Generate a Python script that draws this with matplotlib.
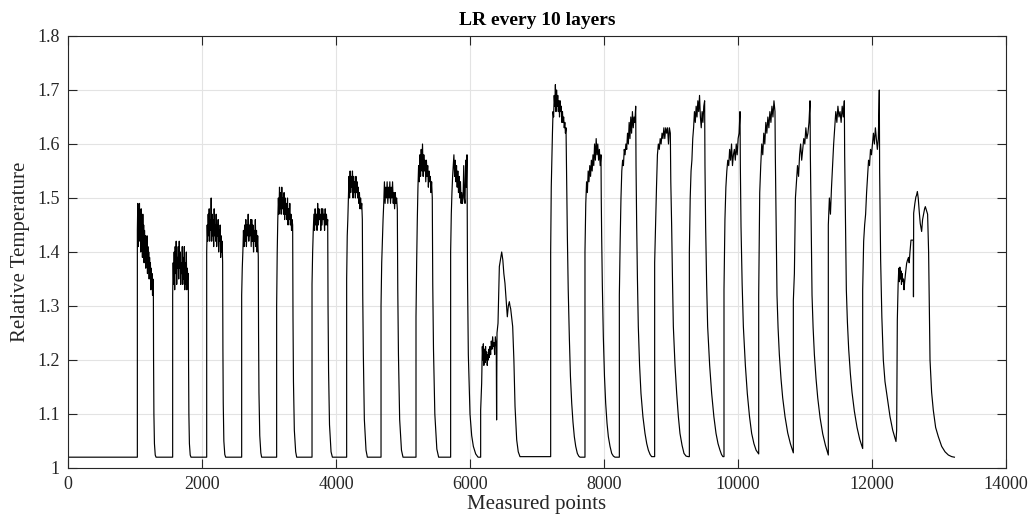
import numpy as np
import matplotlib
matplotlib.use("Agg")
import matplotlib.pyplot as plt
from matplotlib.ticker import FixedLocator, FixedFormatter

# ---------------- data ----------------
title = "LR every 10 layers"
x_label = "Measured points"
y_label = "Relative Temperature"
x_ticks = [0, 2000, 4000, 6000, 8000, 10000, 12000, 14000]
x_tick_labels = ["0", "2000", "4000", "6000", "8000", "10000", "12000", "14000"]
y_ticks = [1.0, 1.1, 1.2, 1.3, 1.4, 1.5, 1.6, 1.7, 1.8]
y_tick_labels = ["1", "1.1", "1.2", "1.3", "1.4", "1.5", "1.6", "1.7", "1.8"]

baseline = 1.02
series_end = 13230

# heating on / off sample index of each regular pulse
pulse_on = [1035, 1562, 2070, 2592, 3114, 3642, 4159, 4672, 5194, 5711,
            7204, 7716, 8229, 8756, 9274, 9791, 10309, 10826, 11348, 11861]
pulse_off = [1274, 1796, 2308, 2840, 3353, 3876, 4393, 4915, 5437, 5955,
             7433, 7955, 8473, 8990, 9502, 10030, 10552, 11075, 11587, 12109]

# plateau readings (noisy), spread over on..off
p01 = [1.44, 1.49, 1.41, 1.48, 1.43, 1.49, 1.42, 1.47, 1.40, 1.48, 1.42, 1.46, 1.39, 1.47,
       1.41, 1.45, 1.38, 1.44, 1.40, 1.43, 1.37, 1.42, 1.39, 1.43, 1.36, 1.41, 1.37, 1.40,
       1.35, 1.39, 1.36, 1.38, 1.33, 1.37, 1.34, 1.36, 1.32, 1.35, 1.33]
p02 = [1.32, 1.38, 1.34, 1.40, 1.33, 1.41, 1.36, 1.42, 1.34, 1.39, 1.37, 1.41, 1.35, 1.42,
       1.37, 1.40, 1.34, 1.38, 1.36, 1.41, 1.34, 1.39, 1.35, 1.41, 1.33, 1.38, 1.34, 1.40,
       1.33, 1.37, 1.35, 1.36]
p03 = [1.40, 1.45, 1.42, 1.47, 1.43, 1.48, 1.42, 1.46, 1.44, 1.50, 1.42, 1.47, 1.43, 1.46,
       1.41, 1.48, 1.43, 1.45, 1.42, 1.47, 1.41, 1.45, 1.43, 1.46, 1.40, 1.44, 1.42, 1.45,
       1.39, 1.43, 1.40, 1.42, 1.38]
p04 = [1.32, 1.37, 1.40, 1.44, 1.41, 1.45, 1.42, 1.46, 1.41, 1.45, 1.43, 1.47, 1.42, 1.45,
       1.43, 1.46, 1.41, 1.46, 1.42, 1.45, 1.40, 1.44, 1.42, 1.46, 1.41, 1.44, 1.40, 1.43, 1.39]
p05 = [1.30, 1.40, 1.46, 1.50, 1.47, 1.52, 1.48, 1.51, 1.47, 1.52, 1.48, 1.50, 1.47, 1.51,
       1.46, 1.50, 1.47, 1.49, 1.46, 1.50, 1.45, 1.48, 1.46, 1.49, 1.45, 1.47, 1.44, 1.46, 1.45]
p06 = [1.34, 1.40, 1.44, 1.47, 1.44, 1.48, 1.45, 1.47, 1.44, 1.49, 1.45, 1.48, 1.46, 1.47,
       1.44, 1.48, 1.45, 1.48, 1.46, 1.47, 1.44, 1.48, 1.45, 1.47, 1.45, 1.46]
p07 = [1.35, 1.43, 1.46, 1.50, 1.54, 1.50, 1.55, 1.51, 1.54, 1.52, 1.55, 1.50, 1.54, 1.51,
       1.53, 1.50, 1.54, 1.51, 1.53, 1.50, 1.52, 1.49, 1.51, 1.48, 1.50, 1.48, 1.49, 1.46]
p08 = [1.30, 1.38, 1.42, 1.46, 1.49, 1.53, 1.49, 1.52, 1.50, 1.53, 1.49, 1.52, 1.50, 1.53,
       1.49, 1.52, 1.50, 1.53, 1.49, 1.51, 1.48, 1.51, 1.49, 1.50, 1.48]
p09 = [1.28, 1.38, 1.46, 1.52, 1.56, 1.53, 1.58, 1.54, 1.59, 1.55, 1.60, 1.54, 1.58, 1.55,
       1.57, 1.53, 1.57, 1.54, 1.56, 1.52, 1.55, 1.53, 1.54, 1.51, 1.53, 1.50]
p10 = [1.40, 1.47, 1.51, 1.54, 1.56, 1.58, 1.54, 1.57, 1.53, 1.56, 1.52, 1.55, 1.51, 1.54,
       1.50, 1.53, 1.49, 1.51, 1.49, 1.50, 1.56, 1.50, 1.49, 1.57, 1.52, 1.58]
p12 = [1.40, 1.52, 1.57, 1.62, 1.66, 1.65, 1.69, 1.67, 1.71, 1.66, 1.70, 1.67, 1.69, 1.66,
       1.68, 1.65, 1.68, 1.66, 1.67, 1.64, 1.66, 1.64, 1.65, 1.63, 1.64, 1.62, 1.63]
p13 = [1.40, 1.49, 1.53, 1.51, 1.55, 1.53, 1.56, 1.54, 1.57, 1.55, 1.58, 1.56, 1.60, 1.57,
       1.61, 1.58, 1.60, 1.57, 1.59, 1.56, 1.58]
p14 = [1.32, 1.42, 1.50, 1.55, 1.57, 1.56, 1.59, 1.58, 1.60, 1.59, 1.62, 1.60, 1.64, 1.61,
       1.65, 1.62, 1.66, 1.63, 1.65, 1.64, 1.67]
p15 = [1.38, 1.45, 1.52, 1.58, 1.60, 1.59, 1.61, 1.60, 1.62, 1.61, 1.63, 1.61, 1.63, 1.62,
       1.63, 1.60, 1.63, 1.62]
p16 = [1.40, 1.50, 1.55, 1.57, 1.61, 1.63, 1.66, 1.64, 1.67, 1.65, 1.68, 1.66, 1.69, 1.65,
       1.63, 1.66, 1.64, 1.67, 1.68]
p17 = [1.33, 1.46, 1.52, 1.55, 1.57, 1.56, 1.59, 1.57, 1.60, 1.56, 1.58, 1.59, 1.57, 1.60,
       1.58, 1.61, 1.62, 1.66]
p18 = [1.32, 1.51, 1.56, 1.60, 1.58, 1.62, 1.60, 1.64, 1.62, 1.65, 1.63, 1.66, 1.64, 1.67,
       1.65, 1.68, 1.66]
p19 = [1.31, 1.36, 1.50, 1.53, 1.56, 1.54, 1.58, 1.60, 1.57, 1.59, 1.61, 1.60, 1.63, 1.61,
       1.62, 1.64, 1.68]
p20 = [1.45, 1.50, 1.47, 1.52, 1.56, 1.60, 1.63, 1.66, 1.64, 1.67, 1.65, 1.66, 1.64, 1.67,
       1.65, 1.68]
p21 = [1.33, 1.42, 1.45, 1.47, 1.51, 1.54, 1.57, 1.56, 1.59, 1.58, 1.60, 1.62, 1.60, 1.63,
       1.61, 1.59, 1.61, 1.70]

# cooling after switch-off: (samples after off, value)
c01 = [(3, 1.20), (8, 1.10), (16, 1.045), (28, 1.024), (40, 1.02)]
c02 = [(3, 1.20), (8, 1.10), (16, 1.045), (28, 1.024), (40, 1.02)]
c03 = [(4, 1.22), (9, 1.12), (18, 1.05), (32, 1.025), (45, 1.02)]
c04 = [(4, 1.25), (10, 1.14), (22, 1.06), (38, 1.028), (50, 1.02)]
c05 = [(5, 1.28), (12, 1.16), (25, 1.07), (45, 1.03), (60, 1.02)]
c06 = [(5, 1.30), (13, 1.18), (27, 1.08), (50, 1.03), (70, 1.02)]
c07 = [(6, 1.32), (15, 1.21), (30, 1.09), (55, 1.033), (75, 1.02)]
c08 = [(7, 1.33), (17, 1.21), (35, 1.09), (62, 1.033), (85, 1.02)]
c09 = [(7, 1.34), (18, 1.22), (38, 1.10), (68, 1.035), (95, 1.02)]
c10 = [(8, 1.35), (20, 1.21), (45, 1.10), (70, 1.06), (95, 1.04), (130, 1.026), (165, 1.02)]
c12 = [(5, 1.58), (12, 1.50), (20, 1.43), (33, 1.33), (50, 1.24), (66, 1.17), (85, 1.12),
       (104, 1.085), (124, 1.058), (145, 1.04), (169, 1.027), (190, 1.022), (209, 1.02)]
c13 = [(4, 1.50), (10, 1.43), (20, 1.34), (35, 1.243), (52, 1.17), (70, 1.12), (90, 1.083),
       (110, 1.058), (135, 1.04), (160, 1.027), (185, 1.022), (209, 1.02)]
c14 = [(5, 1.56), (15, 1.447), (26, 1.35), (39, 1.262), (58, 1.19), (79, 1.138), (108, 1.095),
       (139, 1.064), (165, 1.045), (189, 1.033), (215, 1.025), (238, 1.021)]
c15 = [(7, 1.53), (20, 1.447), (32, 1.35), (45, 1.262), (70, 1.19), (95, 1.138), (120, 1.095),
       (144, 1.064), (175, 1.042), (204, 1.027), (235, 1.022), (269, 1.021)]
c16 = [(5, 1.56), (15, 1.447), (30, 1.34), (45, 1.262), (75, 1.19), (105, 1.138), (138, 1.095),
       (170, 1.064), (200, 1.045), (229, 1.033), (252, 1.025), (272, 1.021)]
c17 = [(5, 1.56), (15, 1.447), (32, 1.34), (50, 1.262), (80, 1.19), (109, 1.138), (142, 1.095),
       (174, 1.064), (208, 1.045), (240, 1.033), (279, 1.026)]
c18 = [(5, 1.58), (15, 1.48), (30, 1.32), (46, 1.26), (65, 1.21), (90, 1.165), (115, 1.13),
       (150, 1.095), (190, 1.065), (230, 1.045), (274, 1.028)]
c19 = [(5, 1.58), (15, 1.48), (30, 1.32), (46, 1.26), (65, 1.21), (90, 1.165), (115, 1.13),
       (150, 1.093), (190, 1.063), (230, 1.042), (273, 1.024)]
c20 = [(5, 1.58), (15, 1.48), (30, 1.33), (46, 1.27), (65, 1.22), (90, 1.175), (115, 1.14),
       (150, 1.105), (190, 1.075), (230, 1.053), (274, 1.036)]
c21 = [(5, 1.55), (20, 1.385), (38, 1.28), (60, 1.20), (85, 1.16), (110, 1.138), (135, 1.115),
       (160, 1.095), (200, 1.07), (249, 1.049)]

# irregular layers (sample, value)
s11 = [(6159, 1.02), (6159, 1.107), (6174, 1.157), (6184, 1.225), (6192, 1.20), (6199, 1.23),
       (6207, 1.19), (6215, 1.22), (6224, 1.195), (6232, 1.225), (6240, 1.20), (6249, 1.215),
       (6257, 1.19), (6266, 1.21), (6274, 1.20), (6282, 1.22), (6289, 1.205), (6298, 1.225),
       (6308, 1.21), (6318, 1.235), (6328, 1.22), (6338, 1.243), (6348, 1.225), (6358, 1.232),
       (6368, 1.21), (6378, 1.243), (6392, 1.225), (6397, 1.089), (6403, 1.25), (6418, 1.268),
       (6438, 1.373), (6473, 1.40), (6490, 1.385), (6505, 1.36), (6522, 1.342), (6540, 1.31),
       (6557, 1.28), (6572, 1.30), (6587, 1.308), (6597, 1.30), (6607, 1.295), (6620, 1.28),
       (6637, 1.262), (6655, 1.20), (6672, 1.114), (6697, 1.052), (6720, 1.03), (6746, 1.021)]
s22 = [(12368, 1.07), (12378, 1.274), (12390, 1.34), (12400, 1.37), (12408, 1.345),
       (12416, 1.372), (12424, 1.35), (12432, 1.365), (12440, 1.34), (12450, 1.36),
       (12460, 1.345), (12470, 1.35), (12478, 1.33), (12488, 1.345), (12500, 1.36),
       (12517, 1.379), (12530, 1.385), (12545, 1.39), (12555, 1.38), (12567, 1.40),
       (12582, 1.422), (12600, 1.422), (12617, 1.422), (12619, 1.317), (12622, 1.472),
       (12640, 1.49), (12655, 1.502), (12665, 1.505), (12677, 1.512), (12690, 1.50),
       (12705, 1.475), (12720, 1.453), (12741, 1.438), (12755, 1.46), (12770, 1.47),
       (12785, 1.48), (12796, 1.484), (12810, 1.478), (12830, 1.47), (12845, 1.40),
       (12856, 1.287), (12866, 1.20), (12890, 1.14), (12915, 1.107), (12950, 1.075),
       (12990, 1.058), (13040, 1.04), (13090, 1.030), (13140, 1.024), (13190, 1.021)]

plateaus = [p01, p02, p03, p04, p05, p06, p07, p08, p09, p10,
            p12, p13, p14, p15, p16, p17, p18, p19, p20, p21]
coolings = [c01, c02, c03, c04, c05, c06, c07, c08, c09, c10,
            c12, c13, c14, c15, c16, c17, c18, c19, c20, c21]

# ---------------- assemble the trace ----------------
X = [0.0]
Y = [baseline]


def hold_until(x):
    if x > X[-1]:
        X.append(x)
        Y.append(Y[-1])


for k in range(len(pulse_on)):
    on, off = pulse_on[k], pulse_off[k]
    if on > 6700 and X[-1] < 6700:
        hold_until(6159)
        for sx, sy in s11:
            X.append(sx); Y.append(sy)
    hold_until(on)
    vals = plateaus[k]
    xs = np.linspace(on, off, len(vals))
    X.extend(xs.tolist()); Y.extend(vals)
    for dx, dy in coolings[k]:
        X.append(off + dx); Y.append(dy)

for sx, sy in s22:
    X.append(sx); Y.append(sy)
X.append(series_end); Y.append(baseline)

# ---------------- figure ----------------
plt.rcParams['font.family'] = ['Liberation Serif', 'DejaVu Serif']
fig = plt.figure(figsize=(10.32, 5.24), dpi=100)
ax = fig.add_axes([0.0659, 0.1069, 0.9089, 0.8244])

ax.plot(X, Y, color='black', linewidth=0.85)

ax.set_xlim(0, 14000)
ax.set_ylim(1.0, 1.8)
ax.xaxis.set_major_locator(FixedLocator(x_ticks))
ax.xaxis.set_major_formatter(FixedFormatter(x_tick_labels))
ax.yaxis.set_major_locator(FixedLocator(y_ticks))
ax.yaxis.set_major_formatter(FixedFormatter(y_tick_labels))

axcol = '#262626'
ax.grid(True, color='#e3e3e3', linewidth=0.8)
ax.set_axisbelow(True)
ax.tick_params(direction='in', length=6.5, width=0.8, colors=axcol,
               top=True, right=True, labelsize=13, pad=6)
for s in ax.spines.values():
    s.set_color(axcol)
    s.set_linewidth(0.8)

ax.set_title(title, fontsize=14, fontweight='bold', color='black', pad=8)
ax.set_xlabel(x_label, fontsize=15, color=axcol, labelpad=1)
ax.set_ylabel(y_label, fontsize=15, color=axcol, labelpad=5)

fig.savefig("out.png", dpi=100)
